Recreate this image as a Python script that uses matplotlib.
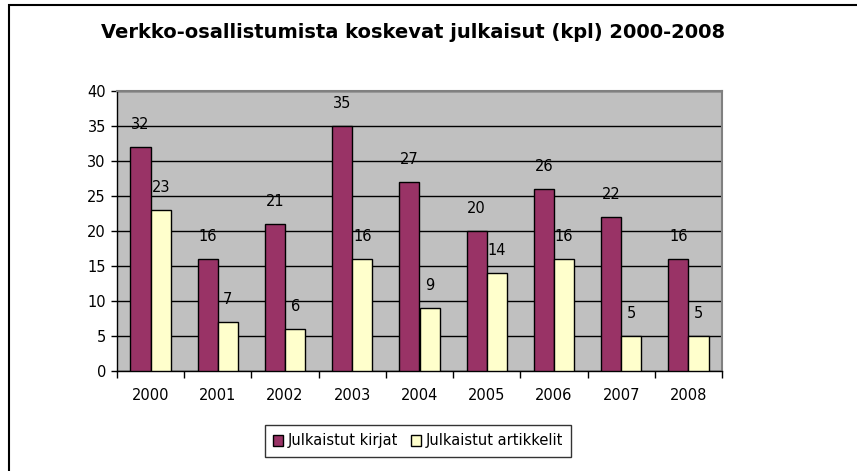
import numpy as np
import matplotlib.pyplot as plt
from matplotlib.patches import Rectangle

plt.rcParams['font.family'] = ['DejaVu Sans']

# data
years = ['2000', '2001', '2002', '2003', '2004', '2005', '2006', '2007', '2008']
kirjat = [32, 16, 21, 35, 27, 20, 26, 22, 16]
artikkelit = [23, 7, 6, 16, 9, 14, 16, 5, 5]
series_names = ['Julkaistut kirjat', 'Julkaistut artikkelit']
title = 'Verkko-osallistumista koskevat julkaisut (kpl) 2000-2008'

W, H = 857, 471
fig = plt.figure(figsize=(W / 100, H / 100), dpi=100)
# plot area in pixels: x 117..722, y 91..371
ax = fig.add_axes([117 / W, 1 - 371 / H, (722 - 117) / W, (371 - 91) / H])
ax.set_facecolor('#C0C0C0')

x = np.arange(len(years))
bw = 0.3
b1 = ax.bar(x - bw / 2, kirjat, bw, color='#993366', edgecolor='black', lw=1, zorder=3,
            label=series_names[0])
b2 = ax.bar(x + bw / 2, artikkelit, bw, color='#FFFFCC', edgecolor='black', lw=1, zorder=3,
            label=series_names[1])

for bars, vals in ((b1, kirjat), (b2, artikkelit)):
    for r, v in zip(bars, vals):
        ax.annotate(str(v), (r.get_x() + r.get_width() / 2, v), xytext=(0, 16),
                    textcoords='offset points', ha='center', va='center', fontsize=10.5)

ax.set_xlim(-0.5, len(years) - 0.5)
ax.set_ylim(0, 40)
ax.set_yticks(range(0, 41, 5))
ax.tick_params(axis='y', labelsize=10.5, length=4, width=1, direction='out', pad=4)
ax.set_xticks(x)
ax.set_xticklabels(years)
ax.set_xticks(np.arange(-0.5, len(years)), minor=True)
ax.tick_params(axis='x', which='major', length=0, labelsize=10.5, pad=12)
ax.tick_params(axis='x', which='minor', length=5, width=1, direction='out')
ax.grid(axis='y', color='black', lw=1, zorder=1)
ax.set_axisbelow(True)

for side in ('top', 'right'):
    ax.spines[side].set_color('#808080')
    ax.spines[side].set_linewidth(1.5)
for side in ('left', 'bottom'):
    ax.spines[side].set_color('black')
    ax.spines[side].set_linewidth(1)

fig.text(413 / W, 1 - 32 / H, title, ha='center', va='center', fontsize=14, fontweight='bold')

leg = fig.legend(loc='center', bbox_to_anchor=(418 / W, 1 - 441 / H), ncol=2, fontsize=10.5,
                 frameon=True, fancybox=False, edgecolor='black', handlelength=0.7,
                 handleheight=0.7, handletextpad=0.3, columnspacing=0.9, borderpad=0.55)
leg.get_frame().set_linewidth(1)

# outer chart border (only left/top edges visible in the reference)
fig.patches.append(Rectangle((9 / W, -0.1), 1.2, 1 - 5 / H + 0.1, transform=fig.transFigure,
                             fill=False, edgecolor='black', lw=1.5))

fig.savefig('out.png', dpi=100)
